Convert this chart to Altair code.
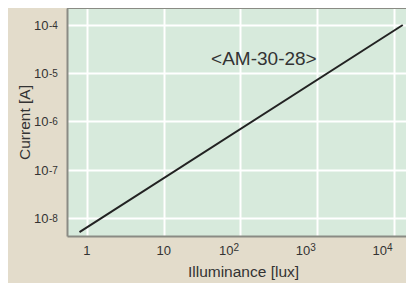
import altair as alt
import pandas as pd

# data
illum = [0.8, 13000]
current = [5.1e-9, 1.0e-4]

x_ticks = [1, 10, 100, 1000, 10000]
x_plain_vals = [1, 10]
x_plain_text = ["1", "10"]
x_pow_vals = [100, 1000, 10000]
x_pow_base = ["10", "10", "10"]
x_pow_exp = ["2", "3", "4"]

y_ticks = [1e-8, 1e-7, 1e-6, 1e-5, 1e-4]
y_base = ["10", "10", "10", "10", "10"]
y_exp = ["-8", "-7", "-6", "-5", "-4"]

label_text = ["<AM-30-28>"]
label_x = [202]
label_y = [1.98e-5]

W, H = 339, 228
FONT = "Liberation Sans"
TXT = "#333333"

line_df = pd.DataFrame({"illum": illum, "current": current})
text_df = pd.DataFrame({"x": label_x, "y": label_y, "t": label_text})
xp_df = pd.DataFrame({"v": x_plain_vals, "t": x_plain_text})
xw_df = pd.DataFrame({"v": x_pow_vals, "b": x_pow_base, "e": x_pow_exp})
y_df = pd.DataFrame({"v": y_ticks, "b": y_base, "e": y_exp})

xscale = alt.Scale(type="log", domain=[0.55, 14330], nice=False)
yscale = alt.Scale(type="log", domain=[4.23e-9, 2.25e-4], nice=False)

line = alt.Chart(line_df).mark_line(color="#222222", strokeWidth=2, clip=True).encode(
    x=alt.X("illum:Q", scale=xscale,
            axis=alt.Axis(values=x_ticks, labels=False, title="Illuminance [lux]",
                          titleX=176, titleY=35, titleBaseline="middle", titleAnchor="start",
                          titleAlign="center")),
    y=alt.Y("current:Q", scale=yscale,
            axis=alt.Axis(values=y_ticks, labels=False, title="Current [A]",
                          titleX=-43, titleY=114, titleAngle=-90, titleBaseline="middle",
                          titleAlign="center", titleAnchor="start")),
)

txt = alt.Chart(text_df).mark_text(fontSize=19, color=TXT, font=FONT).encode(
    x=alt.X("x:Q", scale=xscale), y=alt.Y("y:Q", scale=yscale), text="t:N"
)

xplain = alt.Chart(xp_df).mark_text(fontSize=13, color=TXT, font=FONT, align="center",
                                    baseline="alphabetic").encode(
    x=alt.X("v:Q", scale=xscale), y=alt.value(H + 19), text="t:N"
)
xbase = alt.Chart(xw_df).mark_text(fontSize=13, color=TXT, font=FONT, align="right",
                                   baseline="alphabetic", dx=-7).encode(
    x=alt.X("v:Q", scale=xscale), y=alt.value(H + 19), text="b:N"
)
xexp = alt.Chart(xw_df).mark_text(fontSize=10, color=TXT, font=FONT, align="left",
                                  baseline="alphabetic", dx=-7).encode(
    x=alt.X("v:Q", scale=xscale), y=alt.value(H + 15), text="e:N"
)
ybase = alt.Chart(y_df).mark_text(fontSize=13, color=TXT, font=FONT, align="right",
                                  baseline="alphabetic", dy=5).encode(
    x=alt.value(-18.5), y=alt.Y("v:Q", scale=yscale), text="b:N"
)
yexp = alt.Chart(y_df).mark_text(fontSize=10, color=TXT, font=FONT, align="left",
                                 baseline="alphabetic", dy=4).encode(
    x=alt.value(-18), y=alt.Y("v:Q", scale=yscale), text="e:N"
)

top = alt.Chart(text_df).mark_rule(color="#8a8b84", strokeWidth=2).encode(
    x=alt.value(0), x2=alt.value(W), y=alt.value(0)
)

chart = alt.layer(line, txt, xplain, xbase, xexp, ybase, yexp, top).properties(
    width=W, height=H,
    background="#e3dccb",
    padding={"left": 59, "top": 0, "right": 0, "bottom": 47},
    autosize=alt.AutoSizeParams(type="none"),
).configure_view(fill="#d7eadc", stroke=None).configure_axis(
    grid=True, gridColor="#ffffff", gridWidth=2, ticks=False, tickSize=0,
    domainColor="#8a8b84", domainWidth=2,
    titleFont=FONT, titleFontSize=15.5, titleFontWeight="normal", titleColor=TXT,
)

chart.save("out.html", embed_options={"renderer": "svg", "actions": False})
